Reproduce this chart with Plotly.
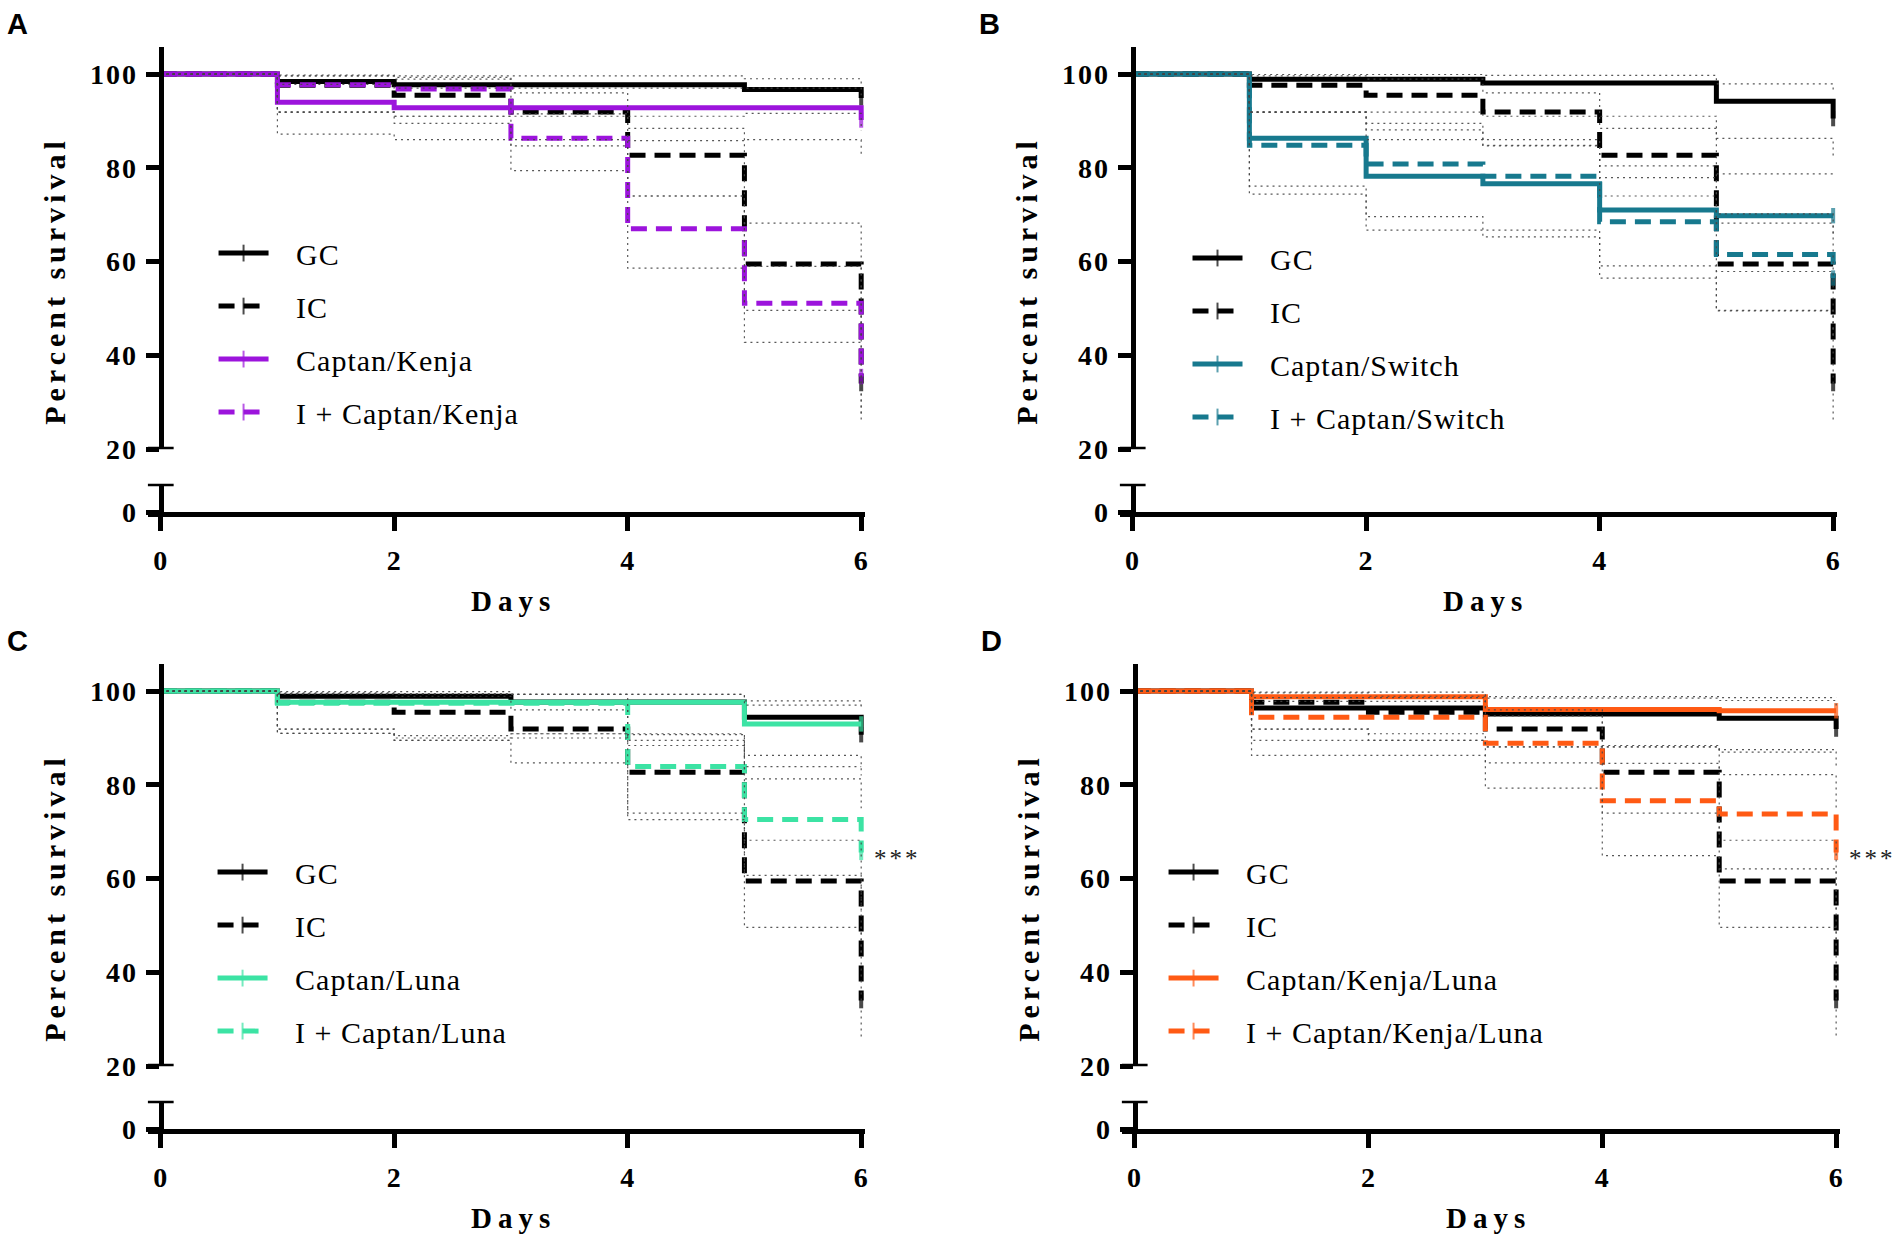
import plotly.graph_objects as go

# ---------------- data ----------------
days = [0, 1, 2, 3, 4, 5, 6]
x_tick_vals = [0, 2, 4, 6]
y_tick_vals = [20, 40, 60, 80, 100]

# IC (infected control) - same in every panel
ic_val = [100, 97.6, 95.5, 91.9, 82.7, 59.5, 34.0]
ic_lo = [100, 91.9, 89.5, 84.7, 74.0, 49.6, 26.0]
ic_hi = [100, 99.6, 98.9, 96.0, 88.4, 68.2, 44.0]

# Panel A
a_gc_val = [100, 98.4, 97.7, 97.7, 97.7, 96.7, 94.9]
a_gc_lo = [100, 91.9, 91.0, 91.0, 91.0, 91.6, 88.0]
a_gc_hi = [100, 99.8, 99.6, 99.6, 99.6, 99.0, 98.0]
a_trt_val = [100, 94.0, 92.8, 92.8, 92.8, 92.8, 90.2]
a_trt_lo = [100, 87.2, 86.0, 86.0, 85.8, 86.0, 83.0]
a_trt_hi = [100, 97.8, 97.0, 97.0, 97.0, 97.0, 95.5]
a_itrt_val = [100, 97.7, 96.8, 86.3, 67.0, 51.1, 35.5]
a_itrt_lo = [100, 91.9, 91.0, 79.4, 58.6, 42.8, 27.5]
a_itrt_hi = [100, 99.6, 99.3, 91.5, 74.0, 59.0, 44.0]

# Panel B
b_gc_val = [100, 98.9, 98.9, 98.1, 98.1, 94.2, 90.5]
b_gc_lo = [100, 91.9, 91.9, 91.0, 91.0, 86.3, 82.0]
b_gc_hi = [100, 99.9, 99.9, 99.7, 99.7, 97.9, 96.0]
b_trt_val = [100, 86.3, 78.2, 76.6, 71.0, 69.8, 69.8]
b_trt_lo = [100, 76.1, 69.6, 66.7, 59.1, 57.9, 57.9]
b_trt_hi = [100, 91.9, 86.0, 84.8, 80.4, 78.7, 78.7]
b_itrt_val = [100, 84.8, 80.8, 78.2, 68.5, 61.5, 56.5]
b_itrt_lo = [100, 74.4, 66.7, 65.3, 56.5, 49.5, 44.0]
b_itrt_hi = [100, 91.9, 88.1, 86.0, 77.9, 70.2, 66.0]

# Panel C
c_gc_val = [100, 98.9, 98.9, 97.7, 97.7, 94.4, 90.7]
c_gc_lo = [100, 91.9, 90.0, 90.9, 90.9, 86.3, 82.0]
c_gc_hi = [100, 99.9, 99.9, 99.3, 99.3, 97.9, 96.5]
c_trt_val = [100, 97.6, 97.6, 97.6, 97.6, 93.0, 93.0]
c_trt_lo = [100, 91.0, 89.5, 90.0, 89.5, 83.9, 83.9]
c_trt_hi = [100, 99.4, 99.4, 99.3, 99.3, 97.0, 97.0]
c_itrt_val = [100, 97.4, 97.4, 97.4, 83.9, 72.6, 65.6]
c_itrt_lo = [100, 91.0, 90.5, 90.9, 72.6, 60.7, 53.0]
c_itrt_hi = [100, 99.4, 99.4, 99.3, 90.7, 81.3, 75.0]

# Panel D
d_gc_val = [100, 96.4, 96.4, 95.1, 95.1, 94.2, 91.9]
d_gc_lo = [100, 89.5, 89.5, 88.1, 88.1, 87.0, 84.0]
d_gc_hi = [100, 98.6, 98.6, 98.5, 98.5, 98.0, 96.5]
d_trt_val = [100, 98.8, 98.8, 96.1, 96.1, 95.8, 95.8]
d_trt_lo = [100, 91.9, 90.9, 88.1, 88.1, 87.5, 87.5]
d_trt_hi = [100, 99.8, 99.8, 98.8, 98.8, 98.6, 98.6]
d_itrt_val = [100, 94.4, 94.4, 88.9, 76.6, 73.8, 65.6]
d_itrt_lo = [100, 86.3, 86.3, 79.3, 64.9, 62.1, 53.0]
d_itrt_hi = [100, 97.8, 97.8, 94.7, 84.6, 82.2, 75.0]

panel_letters = ["A", "B", "C", "D"]
trt_names = ["Captan/Kenja", "Captan/Switch", "Captan/Luna", "Captan/Kenja/Luna"]
itrt_names = ["I + Captan/Kenja", "I + Captan/Switch", "I + Captan/Luna", "I + Captan/Kenja/Luna"]
trt_colors = ["#9C14DC", "#17798E", "#3CE3A4", "#FF5A14"]
significance = ["", "", "***", "***"]

# ---------------- layout helpers ----------------
W, H = 1904, 1258
PX_PER_UNIT = 4.75
panels = [
    dict(x0=161, x6=863, y100=75),
    dict(x0=1135, x6=1837, y100=75),
    dict(x0=161, x6=863, y100=700),
    dict(x0=1137, x6=1840, y100=700),
]
legend_pos = [(214, 230), (1190, 235), (213, 857), (1166, 857)]
days_label_y = [609, 609, 1234, 1234]
star_pos = [None, None, (899, 870), (1876, 870)]

SERIF = "Liberation Serif, Times New Roman, serif"


def sp(text, px):
    return '<span style="letter-spacing:%dpx">%s</span>' % (px, text)


def fx(p):
    return p / W


def fy(p):
    return 1 - p / H


series_data = [
    (a_gc_val, a_gc_lo, a_gc_hi, a_trt_val, a_trt_lo, a_trt_hi, a_itrt_val, a_itrt_lo, a_itrt_hi),
    (b_gc_val, b_gc_lo, b_gc_hi, b_trt_val, b_trt_lo, b_trt_hi, b_itrt_val, b_itrt_lo, b_itrt_hi),
    (c_gc_val, c_gc_lo, c_gc_hi, c_trt_val, c_trt_lo, c_trt_hi, c_itrt_val, c_itrt_lo, c_itrt_hi),
    (d_gc_val, d_gc_lo, d_gc_hi, d_trt_val, d_trt_lo, d_trt_hi, d_itrt_val, d_itrt_lo, d_itrt_hi),
]

fig = go.Figure()
layout = dict(
    width=W, height=H, autosize=False,
    margin=dict(l=0, r=0, t=0, b=0),
    paper_bgcolor="white", plot_bgcolor="rgba(0,0,0,0)",
    showlegend=True,
)
annotations = []
shapes = []

tick_font = dict(family=SERIF, size=28, color="black", weight="bold")
CI_COLOR = "rgba(70,70,70,0.9)"
LEG_PAD = "&nbsp;&nbsp;&nbsp;"

for i, p in enumerate(panels):
    n = i + 1
    xa = "x" if n == 1 else "x%d" % n
    yu_id = 2 * i + 1
    yl_id = 2 * i + 2
    yu = "y" if yu_id == 1 else "y%d" % yu_id
    yl = "y%d" % yl_id
    leg = "legend" if n == 1 else "legend%d" % n

    ppd = (p["x6"] - p["x0"]) / 6.0
    x_left_px = p["x0"] - 13
    x_right_px = p["x6"] + 4
    xr = [-13 / ppd, 6 + 4 / ppd]

    y100 = p["y100"]
    ytop = y100 - 27
    y20 = y100 + 80 * PX_PER_UNIT
    ylow_top = y20 + 35
    y0 = y20 + 64
    ylow_range = [0, (y0 - ylow_top) / PX_PER_UNIT]
    yup_range = [20, 100 + 27 / PX_PER_UNIT]

    layout["xaxis" if n == 1 else "xaxis%d" % n] = dict(
        domain=[fx(x_left_px), fx(x_right_px)], range=xr, anchor=yl,
        showline=True, linewidth=5, linecolor="black", ticks="outside",
        ticklen=14, tickwidth=5, tickcolor="black",
        tickvals=x_tick_vals, ticktext=[sp(str(v), 1) for v in x_tick_vals],
        tickfont=tick_font, showgrid=False, zeroline=False, ticklabelstandoff=5,
    )
    layout["yaxis" if yu_id == 1 else "yaxis%d" % yu_id] = dict(
        domain=[fy(y20), fy(ytop)], range=yup_range, anchor="free", position=fx(p["x0"]),
        showline=True, linewidth=5, linecolor="black", ticks="outside",
        ticklen=13, tickwidth=5, tickcolor="black",
        tickvals=y_tick_vals, ticktext=[sp(str(v), 2) for v in y_tick_vals],
        tickfont=tick_font, showgrid=False, zeroline=False, ticklabelstandoff=2,
    )
    layout["yaxis%d" % yl_id] = dict(
        domain=[fy(y0), fy(ylow_top)], range=ylow_range, anchor="free", position=fx(p["x0"]),
        showline=True, linewidth=5, linecolor="black", ticks="outside",
        ticklen=13, tickwidth=5, tickcolor="black",
        tickvals=[0], ticktext=[sp("0", 2)],
        tickfont=tick_font, showgrid=False, zeroline=False, ticklabelstandoff=2,
    )
    # axis break caps (crossing ticks)
    shapes.append(dict(type="line", xref=xa, yref=yu, x0=xr[0], x1=-xr[0], y0=20, y1=20,
                       line=dict(color="black", width=5)))
    shapes.append(dict(type="line", xref=xa, yref=yl, x0=xr[0], x1=-xr[0],
                       y0=ylow_range[1], y1=ylow_range[1], line=dict(color="black", width=5)))

    (gc_v, gc_l, gc_h, t_v, t_l, t_h, it_v, it_l, it_h) = series_data[i]
    col = trt_colors[i]
    series = [
        ("GC", gc_v, gc_l, gc_h, "black", "solid"),
        ("IC", ic_val, ic_lo, ic_hi, "black", "16px,9px"),
        (trt_names[i], t_v, t_l, t_h, col, "solid"),
        (itrt_names[i], it_v, it_l, it_h, col, "16px,9px"),
    ]
    tick_sizes = [0] * (len(days) - 1) + [11]
    for k, (name, v, lo, hi, c, dash) in enumerate(series):
        fig.add_trace(go.Scatter(
            x=days, y=v, xaxis=xa, yaxis=yu, name=LEG_PAD + sp(name, 1),
            mode="lines+markers", line=dict(color=c, width=5, dash=dash, shape="hv"),
            marker=dict(symbol="line-ns", size=tick_sizes, color=c, line=dict(color=c, width=4)),
            legend=leg, legendgroup="p%d_%d" % (n, k), hoverinfo="skip",
        ))
    for k, (name, v, lo, hi, c, dash) in enumerate(series):
        for arr in (lo, hi):
            fig.add_trace(go.Scatter(
                x=days, y=arr, xaxis=xa, yaxis=yu, mode="lines", showlegend=False,
                line=dict(color=CI_COLOR, width=1.2, dash="2px,4px", shape="hv"),
                legend=leg, hoverinfo="skip",
            ))

    lx, ly = legend_pos[i]
    layout[leg] = dict(
        x=fx(lx), y=fy(ly), xanchor="left", yanchor="top", xref="paper", yref="paper",
        bgcolor="rgba(0,0,0,0)", borderwidth=0, itemwidth=50, itemsizing="constant",
        tracegroupgap=11, font=dict(family=SERIF, size=30, color="black"),
        traceorder="grouped",
    )

    # panel letter
    annotations.append(dict(text="<b>%s</b>" % panel_letters[i], xref="paper", yref="paper",
                            x=fx(p["x0"] - 143), y=fy(y100 - 51), xanchor="center", yanchor="middle",
                            showarrow=False, font=dict(family="Liberation Sans, Arial", size=29, color="black")))
    # y title
    annotations.append(dict(text="<b>%s</b>" % sp("Percent survival", 5), xref="paper", yref="paper",
                            x=fx(p["x0"] - 106), y=fy((ytop + y0) / 2), textangle=-90,
                            xanchor="center", yanchor="middle", showarrow=False,
                            font=dict(family=SERIF, size=30, color="black")))
    # x title
    annotations.append(dict(text="<b>%s</b>" % sp("Days", 6), xref="paper", yref="paper",
                            x=fx(p["x0"] + 3 * ppd + 3), y=fy(days_label_y[i]),
                            xanchor="center", yanchor="middle", showarrow=False,
                            font=dict(family=SERIF, size=29, color="black")))
    if significance[i]:
        sx, sy = star_pos[i]
        annotations.append(dict(text=sp(significance[i], 3), xref="paper", yref="paper",
                                x=fx(sx), y=fy(sy), xanchor="center", yanchor="middle",
                                showarrow=False, font=dict(family=SERIF, size=25, color="#222")))

layout["annotations"] = annotations
layout["shapes"] = shapes
fig.update_layout(**layout)
fig.write_html("out.html", config={"displayModeBar": False},
               post_script="document.body.style.margin='0px';")
